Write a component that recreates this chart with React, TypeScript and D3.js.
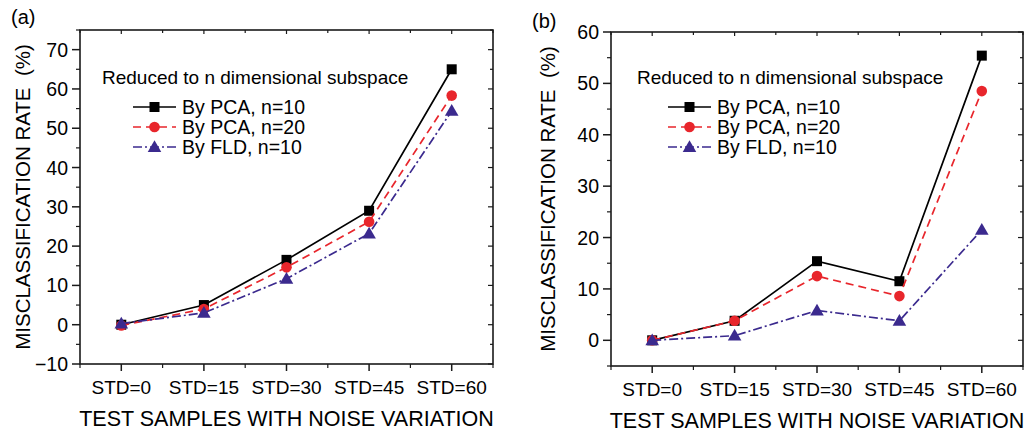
import React from "react";
import * as d3 from "d3";

const categories = ["STD=0", "STD=15", "STD=30", "STD=45", "STD=60"];

const aPca10 = [0, 5, 16.5, 29, 65];
const aPca20 = [-0.2, 4, 14.6, 26.2, 58.3];
const aFld10 = [0.3, 3, 11.7, 23.2, 54.4];

const bPca10 = [0, 3.8, 15.4, 11.5, 55.4];
const bPca20 = [0, 3.8, 12.5, 8.6, 48.5];
const bFld10 = [0, 0.9, 5.8, 3.8, 21.5];

const aYTicks = [-10, 0, 10, 20, 30, 40, 50, 60, 70];
const bYTicks = [0, 10, 20, 30, 40, 50, 60];

const seriesNames = ["By PCA, n=10", "By PCA, n=20", "By FLD, n=10"];
const legendTitle = "Reduced to n dimensional subspace";
const xTitle = "TEST SAMPLES WITH NOISE VARIATION";
const yTitle = "MISCLASSIFICATION RATE  (%)";

const FONT = "'Liberation Sans', Arial, Helvetica, sans-serif";
const AXIS = "#1a1a1a";
const styles = [
  { color: "#000000", dash: "none", marker: "square" },
  { color: "#e8262c", dash: "8,5", marker: "circle" },
  { color: "#3b2a8e", dash: "9,3,2,3", marker: "triangle" },
];

function Marker({ type, x, y, color }: { type: string; x: number; y: number; color: string }) {
  if (type === "square") return <rect x={x - 5} y={y - 5} width={10} height={10} fill={color} />;
  if (type === "circle") return <circle cx={x} cy={y} r={5.3} fill={color} />;
  const s = d3.symbol().type(d3.symbolTriangle).size(80)();
  return <path d={s as string} transform={`translate(${x},${y + 1})`} fill={color} />;
}

type PanelProps = {
  label: string;
  left: number;
  right: number;
  top: number;
  bottom: number;
  yDomain: [number, number];
  yTicks: number[];
  series: number[][];
  legendX: number;
  titleX: number;
  yTitleX: number;
  labelX: number;
  labelY: number;
};

function Panel(p: PanelProps) {
  const x = d3.scaleLinear().domain([-0.5, categories.length - 0.5]).range([p.left, p.right]);
  const y = d3.scaleLinear().domain(p.yDomain).range([p.bottom, p.top]);
  const minor = d3.range(Math.ceil(p.yDomain[0] / 5) * 5, p.yDomain[1] + 0.01, 5).filter((v) => !p.yTicks.includes(v));
  const xMinor = d3.range(-0.5, categories.length, 1);
  const line = d3
    .line<number>()
    .x((_, i) => x(i))
    .y((d) => y(d));
  return (
    <g fontFamily={FONT}>
      <text x={p.labelX} y={p.labelY} fontSize={20}>
        {p.label}
      </text>
      <rect x={p.left} y={p.top} width={p.right - p.left} height={p.bottom - p.top} fill="none" stroke={AXIS} strokeWidth={1.6} />
      {p.yTicks.map((t) => (
        <g key={"yt" + t}>
          <line x1={p.left - 8} x2={p.left} y1={y(t)} y2={y(t)} stroke={AXIS} strokeWidth={1.5} />
          <line x1={p.right - 5} x2={p.right} y1={y(t)} y2={y(t)} stroke={AXIS} strokeWidth={1.2} />
          <text x={p.left - 12} y={y(t) + 7} textAnchor="end" fontSize={19.5}>
            {t < 0 ? "\u2212" + Math.abs(t) : t}
          </text>
        </g>
      ))}
      {minor.map((t) => (
        <g key={"ym" + t}>
          <line x1={p.left - 4} x2={p.left} y1={y(t)} y2={y(t)} stroke={AXIS} strokeWidth={1.2} />
          <line x1={p.right - 3} x2={p.right} y1={y(t)} y2={y(t)} stroke={AXIS} strokeWidth={1.2} />
        </g>
      ))}
      {categories.map((c, i) => (
        <g key={"xt" + c}>
          <line x1={x(i)} x2={x(i)} y1={p.bottom} y2={p.bottom + 7} stroke={AXIS} strokeWidth={1.5} />
          <line x1={x(i)} x2={x(i)} y1={p.top} y2={p.top + 4} stroke={AXIS} strokeWidth={1.2} />
          <text x={x(i)} y={p.bottom + 30} textAnchor="middle" fontSize={19}>
            {c}
          </text>
        </g>
      ))}
      {xMinor.map((v) => (
        <g key={"xm" + v}>
          <line x1={x(v)} x2={x(v)} y1={p.bottom} y2={p.bottom + 4} stroke={AXIS} strokeWidth={1.2} />
          <line x1={x(v)} x2={x(v)} y1={p.top} y2={p.top + 3} stroke={AXIS} strokeWidth={1.2} />
        </g>
      ))}
      <text x={(p.left + p.right) / 2} y={p.bottom + 62} textAnchor="middle" fontSize={21.5}>
        {xTitle}
      </text>
      <text
        transform={`translate(${p.yTitleX},${(p.top + p.bottom) / 2}) rotate(-90)`}
        textAnchor="middle"
        fontSize={20.5}
        style={{ whiteSpace: "pre" }}
      >
        {yTitle}
      </text>
      {p.series.map((vals, si) => (
        <g key={"s" + si}>
          <path d={line(vals) as string} fill="none" stroke={styles[si].color} strokeWidth={1.7} strokeDasharray={styles[si].dash} />
          {vals.map((v, i) => (
            <Marker key={i} type={styles[si].marker} x={x(i)} y={y(v)} color={styles[si].color} />
          ))}
        </g>
      ))}
      <text x={p.titleX} y={84} fontSize={19}>
        {legendTitle}
      </text>
      {seriesNames.map((n, si) => {
        const ly = 107 + si * 20;
        return (
          <g key={"l" + si}>
            <line x1={p.legendX} x2={p.legendX + 43} y1={ly} y2={ly} stroke={styles[si].color} strokeWidth={1.7} strokeDasharray={styles[si].dash} />
            <Marker type={styles[si].marker} x={p.legendX + 21.5} y={ly} color={styles[si].color} />
            <text x={p.legendX + 49} y={ly + 7} fontSize={19.5}>
              {n}
            </text>
          </g>
        );
      })}
    </g>
  );
}

export default function App() {
  return (
    <svg width={1028} height={433} style={{ position: "absolute", left: 0, top: 0, background: "#fff" }}>
      <rect width={1028} height={433} fill="#fff" />
      <Panel
        label="(a)"
        left={80}
        right={493}
        top={30}
        bottom={364}
        yDomain={[-10, 75]}
        yTicks={aYTicks}
        series={[aPca10, aPca20, aFld10]}
        legendX={133}
        titleX={102}
        yTitleX={29.5}
        labelX={11}
        labelY={24}
      />
      <Panel
        label="(b)"
        left={611}
        right={1023}
        top={32}
        bottom={366}
        yDomain={[-5, 60]}
        yTicks={bYTicks}
        series={[bPca10, bPca20, bFld10]}
        legendX={668}
        titleX={637}
        yTitleX={555}
        labelX={532}
        labelY={28}
      />
    </svg>
  );
}
